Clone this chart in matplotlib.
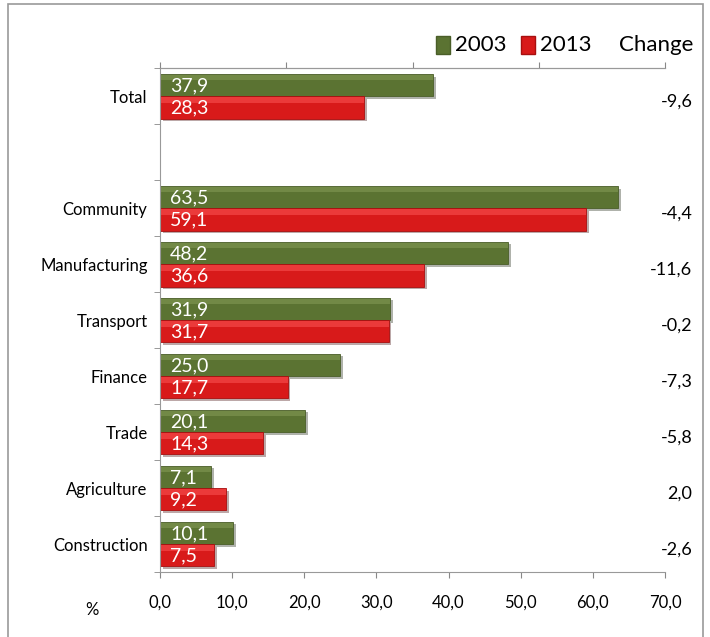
import matplotlib.pyplot as plt
import matplotlib.patheffects as pe
from matplotlib.patches import Rectangle

plt.rcParams['font.family'] = ['Lato', 'DejaVu Sans']

categories = ["Total", "", "Community", "Manufacturing", "Transport",
              "Finance", "Trade", "Agriculture", "Construction"]
y2003 = [37.9, None, 63.5, 48.2, 31.9, 25.0, 20.1, 7.1, 10.1]
y2013 = [28.3, None, 59.1, 36.6, 31.7, 17.7, 14.3, 9.2, 7.5]
change = ["-9,6", "", "-4,4", "-11,6", "-0,2", "-7,3", "-5,8", "2,0", "-2,6"]
xticks = [0, 10, 20, 30, 40, 50, 60, 70]

green = "#5b7332"
red = "#d81a1a"

fig = plt.figure(figsize=(7.1, 6.37), dpi=100)
ax = fig.add_axes([0.2254, 0.102, 0.7112, 0.791])

shadow = [pe.SimplePatchShadow(offset=(2, -2), alpha=0.35), pe.Normal()]
for i, cat in enumerate(categories):
    if y2003[i] is None:
        continue
    b1 = ax.barh(i - 0.2, y2003[i], height=0.4, color=green, edgecolor="#4a5e28", linewidth=0.6)
    b2 = ax.barh(i + 0.2, y2013[i], height=0.4, color=red, edgecolor="#a80f0f", linewidth=0.6)
    for b in list(b1) + list(b2):
        b.set_path_effects(shadow)
    # lighter strip along the top of each bar
    ax.barh(i - 0.33, y2003[i], height=0.1, color="#8aa05a", alpha=0.5, linewidth=0)
    ax.barh(i + 0.07, y2013[i], height=0.1, color="#ff5a5a", alpha=0.5, linewidth=0)
    ax.text(1.4, i - 0.19, f"{y2003[i]:.1f}".replace(".", ","), color="white",
            fontsize=14, va="center", ha="left")
    ax.text(1.4, i + 0.21, f"{y2013[i]:.1f}".replace(".", ","), color="white",
            fontsize=14, va="center", ha="left")
    ax.text(1.054, i + 0.1, change[i], transform=ax.get_yaxis_transform(),
            ha="right", va="center", fontsize=13)

ax.set_xlim(0, 70)
ax.set_ylim(8.5, -0.5)
ax.set_xticks(xticks)
ax.set_xticklabels([f"{v:.1f}".replace(".", ",") for v in xticks], fontsize=12)
ax.set_yticks(range(len(categories)))
ax.set_yticklabels(categories, fontsize=12)
ax.set_yticks([i - 0.5 for i in range(len(categories) + 1)], minor=True)
ax.tick_params(axis="y", which="major", length=0, pad=9)
ax.tick_params(axis="y", which="minor", length=4, color="#888888")
ax.tick_params(axis="x", length=4.5, color="#888888", pad=12)

ax.spines["right"].set_visible(False)
for s in ["left", "bottom", "top"]:
    ax.spines[s].set_color("#999999")

top = ax.twiny()
top.set_xlim(0, 4)
top.set_xticks([0, 1, 2, 3, 4])
top.set_xticklabels([])
top.tick_params(axis="x", length=4.5, color="#888888")
for s in ["right", "left", "bottom"]:
    top.spines[s].set_visible(False)
top.spines["top"].set_color("#999999")

ax.text(-0.135, -0.075, "%", transform=ax.transAxes, fontsize=12, ha="center", va="center")

fig.text(0.977, 0.93, "Change", fontsize=16, ha="right", va="center")
fig.text(0.641, 0.93, "2003", fontsize=16, ha="left", va="center")
fig.text(0.761, 0.93, "2013", fontsize=16, ha="left", va="center")
fig.patches.append(Rectangle((0.614, 0.916), 0.02, 0.027, transform=fig.transFigure,
                             facecolor=green, edgecolor="#4a5e28", figure=fig))
fig.patches.append(Rectangle((0.734, 0.916), 0.02, 0.027, transform=fig.transFigure,
                             facecolor=red, edgecolor="#a80f0f", figure=fig))

fig.patches.append(Rectangle((0.011, -0.01), 0.979, 1.003, transform=fig.transFigure,
                             fill=False, edgecolor="#999999", linewidth=1.2, figure=fig))

fig.savefig("out.png", dpi=100)
